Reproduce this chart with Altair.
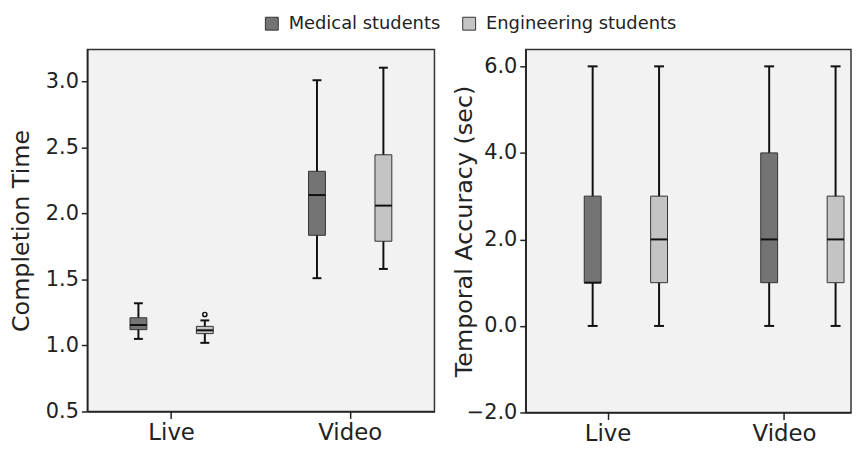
import altair as alt
import pandas as pd

# ---- data ----
categories = ["Live", "Live", "Video", "Video"]
groups = ["Medical students", "Engineering students", "Medical students", "Engineering students"]
group_order = ["Medical students", "Engineering students"]
group_colors = ["#747474", "#c4c4c4"]

# Completion Time
ct_min = [1.05, 1.02, 1.51, 1.58]
ct_q1 = [1.12, 1.09, 1.835, 1.79]
ct_med = [1.155, 1.115, 2.14, 2.06]
ct_q3 = [1.21, 1.145, 2.32, 2.445]
ct_max = [1.32, 1.19, 3.01, 3.105]
ct_out_cat = ["Live"]
ct_out_grp = ["Engineering students"]
ct_out_val = [1.235]

# Temporal Accuracy (sec)
ta_min = [0, 0, 0, 0]
ta_q1 = [1, 1, 1, 1]
ta_med = [1, 2, 2, 2]
ta_q3 = [3, 3, 4, 3]
ta_max = [6, 6, 6, 6]

FONT = "DejaVu Sans"
TXT = "#222222"


def make_df(mn, q1, md, q3, mx):
    return pd.DataFrame({"cat": categories, "grp": groups, "mn": mn, "q1": q1,
                         "md": md, "q3": q3, "mx": mx})


def panel(df, out_df, ydom, yvals, ytitle, width, height, pin, pout, palign, opad, lx, tx, cap):
    x = alt.X("cat:N", sort=["Live", "Video"],
              scale=alt.Scale(paddingInner=pin, paddingOuter=pout, align=palign),
              axis=alt.Axis(title=None, labelAngle=0))
    xo = alt.XOffset("grp:N", sort=group_order,
                     scale=alt.Scale(domain=group_order, paddingInner=0, paddingOuter=opad))
    y_scale = alt.Scale(domain=ydom, nice=False, zero=False)
    y_axis = alt.Axis(title=ytitle, values=yvals, format=".1f", titleX=tx)
    base = alt.Chart(df)
    whisk = base.mark_rule(color="#111", strokeWidth=2).encode(
        x=x, xOffset=xo, y=alt.Y("mn:Q", scale=y_scale, axis=y_axis), y2="mx:Q")
    box = base.mark_bar(size=17, stroke="#333", strokeWidth=1, opacity=1).encode(
        x=x, xOffset=xo, y=alt.Y("q1:Q", scale=y_scale, axis=y_axis), y2="q3:Q",
        color=alt.Color("grp:N", sort=group_order,
                        scale=alt.Scale(domain=group_order, range=group_colors),
                        legend=alt.Legend(title=None, orient="none", direction="horizontal",
                                          legendX=lx, legendY=-35, symbolType="square",
                                          symbolSize=169, symbolStrokeColor="#333",
                                          symbolStrokeWidth=1, symbolOpacity=1,
                                          labelFontSize=18, labelFont=FONT, labelColor=TXT,
                                          labelLimit=400, labelOffset=8, columnPadding=20,
                                          padding=0)))
    med = base.mark_tick(size=17, thickness=2, color="#111", opacity=1).encode(
        x=x, xOffset=xo, y=alt.Y("md:Q", scale=y_scale, axis=y_axis))
    cap_lo = base.mark_tick(size=cap, thickness=2, color="#111", opacity=1).encode(
        x=x, xOffset=xo, y=alt.Y("mn:Q", scale=y_scale, axis=y_axis))
    cap_hi = base.mark_tick(size=cap, thickness=2, color="#111", opacity=1).encode(
        x=x, xOffset=xo, y=alt.Y("mx:Q", scale=y_scale, axis=y_axis))
    layers = [whisk, box, med, cap_lo, cap_hi]
    if out_df is not None:
        outl = alt.Chart(out_df).mark_point(shape="circle", size=18, filled=False,
                                            color="#111", strokeWidth=1.5, opacity=1).encode(
            x=x, xOffset=xo, y=alt.Y("v:Q", scale=y_scale, axis=y_axis))
        layers.append(outl)
    return alt.layer(*layers).properties(width=width, height=height)


ct_df = make_df(ct_min, ct_q1, ct_med, ct_q3, ct_max)
ct_out = pd.DataFrame({"cat": ct_out_cat, "grp": ct_out_grp, "v": ct_out_val})
ta_df = make_df(ta_min, ta_q1, ta_med, ta_q3, ta_max)

left = panel(ct_df, ct_out, [0.5, 3.243], [0.5, 1.0, 1.5, 2.0, 2.5, 3.0], "Completion Time",
             350, 365, 0.056, 0, 0.5, 0.269, 177, -54, 9)
right = panel(ta_df, None, [-2, 6.39], [-2, 0, 2, 4, 6], "Temporal Accuracy (sec)",
              328, 366, 0.247, 0.045, 1.0, 0.031, 177, -50, 10)

chart = alt.hconcat(left, right, spacing=16).properties(
    padding={"left": 1, "top": 5, "right": 0, "bottom": 0},
    background="white",
).configure_view(
    fill="#f2f2f2", stroke="#333333", strokeWidth=1.5
).configure_axis(
    grid=False, labelFont=FONT, titleFont=FONT, labelColor=TXT, titleColor=TXT,
    tickColor="#222", domainColor="#222", tickWidth=1.5, domainWidth=1.5,
    titleFontWeight="normal"
).configure_axisY(
    labelFontSize=21, titleFontSize=24, tickSize=6, labelPadding=3, titlePadding=8
).configure_axisX(
    labelFontSize=23, tickSize=7, labelPadding=3
)

chart.save("out.html", embed_options={"renderer": "svg", "actions": False})
